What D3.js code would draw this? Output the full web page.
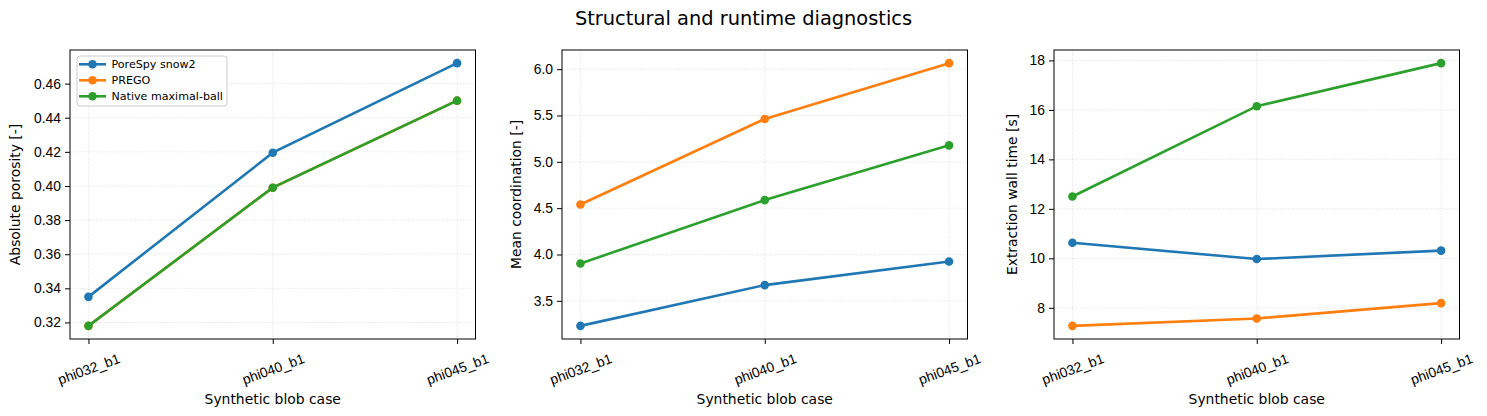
<!DOCTYPE html>
<html>
<head>
<meta charset="utf-8">
<script src="https://cdn.jsdelivr.net/npm/d3@7"></script>
<style>
  body { margin: 0; background: #fff; }
  svg { font-family: "DejaVu Sans", sans-serif; }
</style>
</head>
<body>
<div id="chart"></div>
<script>
// data
const cases = ['phi032_b1', 'phi040_b1', 'phi045_b1']
const methods = ['PoreSpy snow2', 'PREGO', 'Native maximal-ball']
const colors = ['#1f77b4', '#ff7f0e', '#2ca02c']

const porosity_snow2 = [0.335, 0.4195, 0.472]
const porosity_prego = [0.318, 0.399, 0.450]
const porosity_native = [0.318, 0.399, 0.450]

const coord_snow2 = [3.23, 3.67, 3.925]
const coord_prego = [4.54, 5.463, 6.065]
const coord_native = [3.903, 4.587, 5.178]

const time_snow2 = [10.63, 9.97, 10.31]
const time_prego = [7.27, 7.57, 8.19]
const time_native = [12.5, 16.15, 17.89]

const panels = [
  { ylabel: 'Absolute porosity [-]', fmt: '.2f', nticks: 8, labelX: -50,
    series: [porosity_snow2, porosity_prego, porosity_native], legend: true },
  { ylabel: 'Mean coordination [-]', fmt: '.1f', nticks: 6, labelX: -41,
    series: [coord_snow2, coord_prego, coord_native] },
  { ylabel: 'Extraction wall time [s]', fmt: 'd', nticks: 6, labelX: -37,
    series: [time_snow2, time_prego, time_native] }
]

const W = 1487, H = 416
const lefts = [70, 562, 1054]
const pw = 405.5, panelTop = 50, ph = 289

var svg = d3.select('#chart').append('svg').
  attr('width', W).
  attr('height', H)

svg.append('text').
  attr('x', W / 2).
  attr('y', 25).
  attr('text-anchor', 'middle').
  style('font-size', '19.4px').
  text('Structural and runtime diagnostics')

panels.forEach((p, i) => {
  var g = svg.append('g').attr('transform', `translate(${lefts[i]},${panelTop})`)

  var x = d3.scalePoint().domain(cases).range([0, pw]).padding(0.1)
  var all = p.series.flat()
  var lo = d3.min(all), hi = d3.max(all), pad = (hi - lo) * 0.05
  var y = d3.scaleLinear().domain([lo - pad, hi + pad]).range([ph, 0])
  var yt = y.ticks(p.nticks).filter(v => v >= y.domain()[0] && v <= y.domain()[1])

  // grid
  g.append('g').selectAll('line').data(yt).enter().append('line').
    attr('x1', 0).attr('x2', pw).
    attr('y1', d => y(d)).attr('y2', d => y(d)).
    attr('stroke', '#b0b0b0').attr('stroke-opacity', 0.4).
    attr('stroke-dasharray', '1,1.6')
  g.append('g').selectAll('line').data(cases).enter().append('line').
    attr('x1', d => x(d)).attr('x2', d => x(d)).
    attr('y1', 0).attr('y2', ph).
    attr('stroke', '#b0b0b0').attr('stroke-opacity', 0.4).
    attr('stroke-dasharray', '1,1.6')

  // lines + markers
  var line = d3.line().x((d, k) => x(cases[k])).y(d => y(d))
  p.series.forEach((s, k) => {
    g.append('path').datum(s).
      attr('d', line).
      attr('fill', 'none').
      attr('stroke', colors[k]).
      attr('stroke-width', 2.6)
    g.selectAll(null).data(s).enter().append('circle').
      attr('cx', (d, j) => x(cases[j])).
      attr('cy', d => y(d)).
      attr('r', 4.3).
      attr('fill', colors[k])
  })

  // axes
  var xa = g.append('g').attr('transform', `translate(0,${ph})`).
    call(d3.axisBottom(x).tickSize(5).tickPadding(5))
  xa.select('.domain').remove()
  xa.selectAll('text').
    style('font-size', '13.9px').
    attr('fill', '#000').
    attr('text-anchor', 'middle').
    attr('transform', 'translate(0,30) rotate(-20)').
    attr('y', 0).attr('dy', '0.35em')

  var ya = g.append('g').
    call(d3.axisLeft(y).tickValues(yt).tickFormat(d3.format(p.fmt)).tickSize(5).tickPadding(4))
  ya.select('.domain').remove()
  ya.selectAll('text').style('font-size', '13.9px').attr('fill', '#000')

  g.append('rect').
    attr('width', pw).attr('height', ph).
    attr('fill', 'none').attr('stroke', '#000').attr('stroke-width', 1)

  g.append('text').
    attr('x', pw / 2).attr('y', ph + 65).
    attr('text-anchor', 'middle').
    style('font-size', '13.9px').
    text('Synthetic blob case')

  g.append('text').
    attr('transform', `translate(${p.labelX},${ph / 2}) rotate(-90)`).
    attr('text-anchor', 'middle').
    style('font-size', '13.9px').
    text(p.ylabel)

  if (p.legend) {
    var lg = g.append('g').attr('transform', 'translate(7,6)')
    lg.append('rect').
      attr('width', 150).attr('height', 50).
      attr('rx', 3).
      attr('fill', '#fff').attr('fill-opacity', 0.8).
      attr('stroke', '#ccc')
    methods.forEach((m, k) => {
      var ly = 8.3 + k * 16
      lg.append('line').
        attr('x1', 2).attr('x2', 29).attr('y1', ly).attr('y2', ly).
        attr('stroke', colors[k]).attr('stroke-width', 2.6)
      lg.append('circle').attr('cx', 15.5).attr('cy', ly).attr('r', 4.3).attr('fill', colors[k])
      lg.append('text').
        attr('x', 34.5).attr('y', ly).attr('dy', '0.35em').
        style('font-size', '11.1px').
        text(m)
    })
  }
})
</script>
</body>
</html>
